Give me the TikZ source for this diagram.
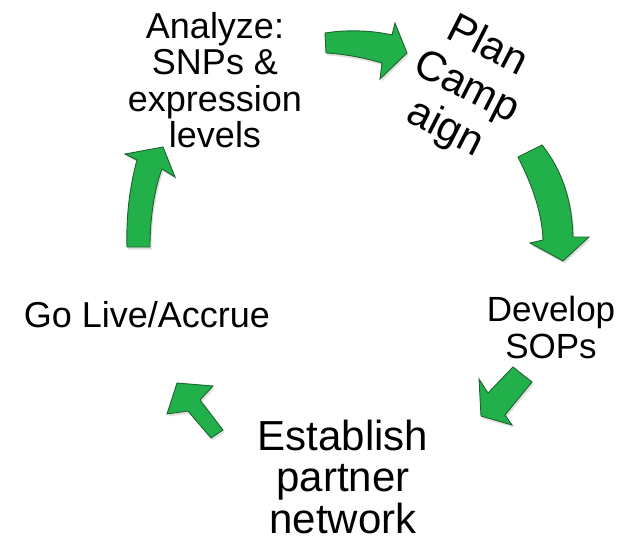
\documentclass[tikz,border=0pt]{standalone}
\usepackage{fontspec}
\setmainfont{Liberation Sans}
\usetikzlibrary{positioning, shadows}
\definecolor{cyclegreen}{RGB}{34,176,74}
\definecolor{cycleedge}{RGB}{28,100,45}
\tikzset{>=stealth}
\tikzset{blockarrow/.style={fill=cyclegreen, draw=cycleedge, line width=0.9pt, line join=miter,
  drop shadow={opacity=0.25, shadow xshift=1.5pt, shadow yshift=-2.5pt}}}

\begin{document}
\begin{tikzpicture}[x=1pt, y=-1pt, every node/.style={inner sep=0pt, align=center}]
\useasboundingbox (0,0) rectangle (632,538);
\node[font=\fontsize{36}{36.5}\selectfont] (analyze) at (215,80) {Analyze:\\SNPs \&\\expression\\levels};
\node[font=\fontsize{42}{46}\selectfont, rotate=-27] (plan) at (466,88) {Plan\\Camp\\aign};
\node[font=\fontsize{35}{37}\selectfont] (sops) at (551,327.5) {Develop\\SOPs};
\node[font=\fontsize{42}{41.5}\selectfont] (partner) at (343,476.5) {Establish\\partner\\network};
\node[font=\fontsize{36}{40}\selectfont, anchor=base] (live) at (147,327) {Go Live/Accrue};
% arrows round the cycle
\filldraw[blockarrow] (325,33) .. controls (350,29) and (375,31) .. (392,35) -- (395,23) -- (407,53)
  -- (380,79) -- (382,63) .. controls (365,58) and (345,54) .. (326,53) -- cycle;
\filldraw[blockarrow] (518,157) .. controls (532,185) and (542,212) .. (543,240) -- (530,243) -- (563,261)
  -- (589,237) -- (573,237) .. controls (572,200) and (562,170) .. (542,145) -- cycle;
\filldraw[blockarrow] (513,367) -- (532,382) -- (505,415) -- (512,425) -- (481,416) -- (479,379) -- (488,393) -- cycle;
\filldraw[blockarrow] (223,430) -- (200,400) -- (213,386) -- (177,383) -- (167,414) -- (188,411) -- (211,438) -- cycle;
\filldraw[blockarrow] (127,247) .. controls (126,215) and (130,185) .. (137,160) -- (125,154) -- (163,147)
  -- (175,177) -- (162,169) .. controls (154,190) and (150,220) .. (150,247) -- cycle;
\end{tikzpicture}
\end{document}
